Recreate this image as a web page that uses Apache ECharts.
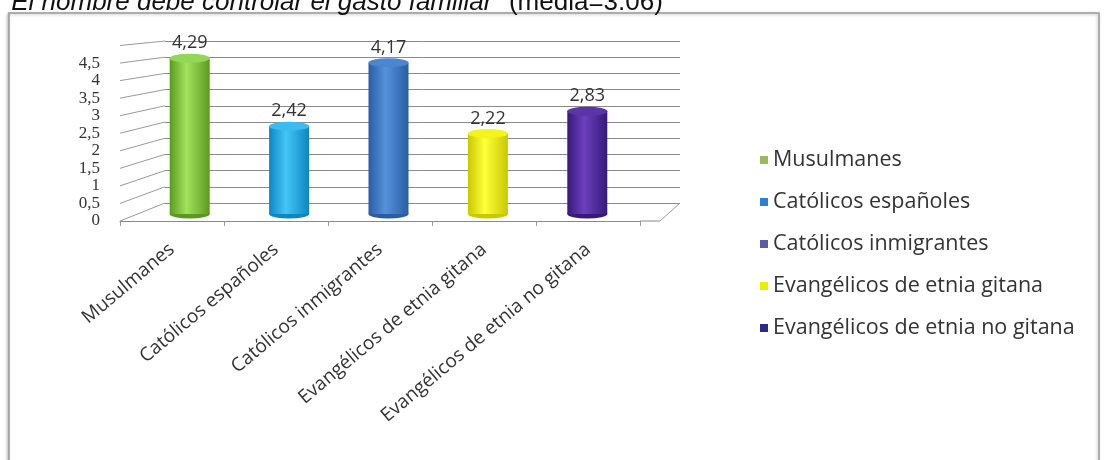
<!DOCTYPE html>
<html>
<head>
<meta charset="utf-8">
<style>
  html, body { margin: 0; padding: 0; background: #ffffff; }
  #chart { width: 1104px; height: 460px; }
</style>
<script src="https://cdn.jsdelivr.net/npm/echarts@6/dist/echarts.min.js"></script>
</head>
<body>
<div id="chart"></div>
<script>
// Categories and mean scores
const categories = [
  'Musulmanes',
  'Católicos españoles',
  'Católicos inmigrantes',
  'Evangélicos de etnia gitana',
  'Evangélicos de etnia no gitana'
];
const values = [4.29, 2.42, 4.17, 2.22, 2.83];
const yTicks = [0, 0.5, 1, 1.5, 2, 2.5, 3, 3.5, 4, 4.5, 5];

// Cylinder shading per category: [edge, highlight, top cap]
const palette = [
  ['#5c9a1f', '#a3e25e', '#94d655'],
  ['#0d86c4', '#45c6f6', '#3bbcef'],
  ['#2a5da3', '#5592dc', '#4b86d0'],
  ['#c9c900', '#ffff3a', '#f4f41a'],
  ['#36197a', '#6c40bc', '#5d34a8']
];
const legendColors = ['#9bbb59', '#2f7fd0', '#5a5aa8', '#e6f000', '#2e2a8a'];

const fmt = v => String(v).replace('.', ',');

function cylinder(c) {
  return new echarts.graphic.LinearGradient(0, 0, 1, 0, [
    { offset: 0, color: c[0] },
    { offset: 0.42, color: c[1] },
    { offset: 1, color: c[0] }
  ]);
}

// Three layered grids give the box its depth:
// 0 = back wall with the gridlines, 1 = front plane with axis labels, 2 = cylinders
const grids = [
  { left: 165, right: 424, top: 41, bottom: 257 },
  { left: 120, right: 464, top: 45.5, bottom: 239 },
  { left: 140, right: 467, top: 32.5, bottom: 246 }
];

const barSeries = categories.map((name, i) => ({
  name: name,
  type: 'bar',
  xAxisIndex: 2,
  yAxisIndex: 2,
  barWidth: 40,
  barGap: '-100%',
  z: 4,
  itemStyle: { color: cylinder(palette[i]) },
  label: {
    show: true,
    position: 'top',
    distance: 6,
    formatter: p => fmt(p.value),
    fontFamily: 'Open Sans',
    fontSize: 18,
    color: '#333'
  },
  data: values.map((v, j) => (j === i ? v : null))
}));

// Elliptical caps and bases of the cylinders
const capSeries = {
  type: 'pictorialBar',
  xAxisIndex: 2,
  yAxisIndex: 2,
  symbol: 'circle',
  symbolSize: [40, 9],
  symbolPosition: 'end',
  symbolOffset: [0, '-50%'],
  z: 5,
  silent: true,
  data: values.map((v, i) => ({ value: v, itemStyle: { color: palette[i][2] } }))
};
const baseSeries = {
  type: 'pictorialBar',
  xAxisIndex: 2,
  yAxisIndex: 2,
  symbol: 'circle',
  symbolSize: [40, 9],
  symbolPosition: 'start',
  symbolOffset: [0, '50%'],
  z: 3,
  silent: true,
  data: values.map((v, i) => ({ value: v, itemStyle: { color: palette[i][0] } }))
};

const hiddenCat = gi => ({
  type: 'category', gridIndex: gi, data: categories,
  axisLine: { show: false }, axisTick: { show: false }, axisLabel: { show: false }
});
const valueAxis = (gi, extra) => Object.assign({
  type: 'value', gridIndex: gi, min: 0, max: 5, interval: 0.5,
  axisLine: { show: false }, axisTick: { show: false },
  axisLabel: { show: false }, splitLine: { show: false }
}, extra);

const chart = echarts.init(document.getElementById('chart'));
chart.setOption({
  animation: false,
  legend: {
    data: categories.map((c, i) => ({ name: c, itemStyle: { color: legendColors[i] } })),
    orient: 'vertical',
    left: 755,
    top: 144,
    itemGap: 20,
    itemWidth: 8,
    itemHeight: 8,
    icon: 'rect',
    textStyle: { fontFamily: 'Open Sans', fontSize: 21.5, color: '#333' }
  },
  grid: grids,
  xAxis: [
    hiddenCat(0),
    {
      type: 'category',
      gridIndex: 1,
      data: categories,
      axisLine: { lineStyle: { color: '#888', width: 1 } },
      axisTick: { show: true, length: 5, lineStyle: { color: '#999' } },
      axisLabel: {
        rotate: 40,
        margin: 26,
        fontFamily: 'Open Sans',
        fontSize: 19,
        color: '#333',
        interval: 0
      }
    },
    hiddenCat(2)
  ],
  yAxis: [
    valueAxis(0, { splitLine: { show: true, lineStyle: { color: '#8a8a8a', width: 1 } } }),
    valueAxis(1, {
      axisLabel: {
        show: true,
        margin: 20,
        fontFamily: 'Liberation Serif',
        fontSize: 17,
        color: '#333',
        formatter: v => (v < 5 ? fmt(v) : '')
      }
    }),
    valueAxis(2)
  ],
  series: [...barSeries, capSeries, baseSeries]
});

// Frame, title and the perspective side wall / floor edges
function decorate() {
  const g = [
    {
      type: 'rect',
      shape: { x: 9, y: 13, width: 1090, height: 460 },
      style: { fill: '#fff', stroke: '#9a9a9a', lineWidth: 1.5,
               shadowColor: 'rgba(0,0,0,0.25)', shadowBlur: 3, shadowOffsetX: -1, shadowOffsetY: 1 },
      z: -10
    },
    {
      type: 'text',
      left: 2,
      top: -10,
      style: {
        text: '{i|"El hombre debe controlar el gasto familiar"}{n| (media=3.06)}',
        rich: {
          i: { fontFamily: 'Liberation Sans', fontStyle: 'italic', fontSize: 26, fill: '#111' },
          n: { fontFamily: 'Liberation Sans', fontSize: 26, fill: '#111' }
        }
      }
    }
  ];
  const frontX = grids[1].left;
  const backX = grids[0].left;
  yTicks.forEach(v => {
    const yf = chart.convertToPixel({ yAxisIndex: 1 }, v);
    const yb = chart.convertToPixel({ yAxisIndex: 0 }, v);
    g.push({
      type: 'line', silent: true,
      shape: { x1: frontX, y1: yf, x2: backX, y2: yb },
      style: { stroke: '#9a9a9a', lineWidth: 1 }
    });
  });
  // right floor edge
  const y0f = chart.convertToPixel({ yAxisIndex: 1 }, 0);
  const y0b = chart.convertToPixel({ yAxisIndex: 0 }, 0);
  const frontRight = 1104 - grids[1].right;
  const backRight = 1104 - grids[0].right;
  g.push({
    type: 'line', silent: true,
    shape: { x1: frontRight, y1: y0f, x2: frontRight + 20, y2: y0f },
    style: { stroke: '#888', lineWidth: 1 }
  });
  g.push({
    type: 'line', silent: true,
    shape: { x1: frontRight + 20, y1: y0f, x2: backRight, y2: y0b },
    style: { stroke: '#9a9a9a', lineWidth: 1 }
  });
  chart.setOption({ graphic: g });
}
decorate();
</script>
</body>
</html>
